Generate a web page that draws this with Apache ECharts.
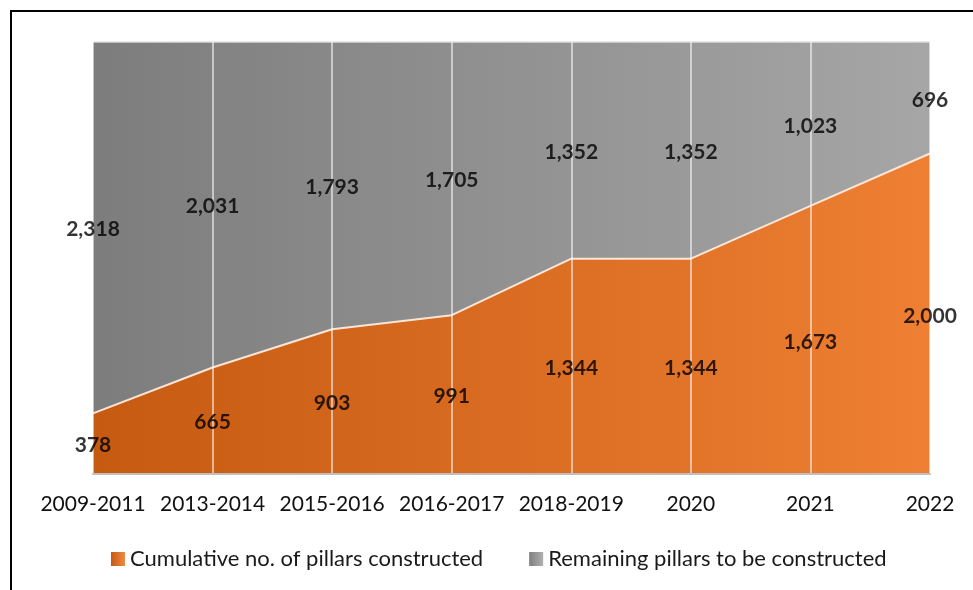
<!DOCTYPE html>
<html>
<head>
<meta charset="utf-8">
<script src="https://cdn.jsdelivr.net/npm/echarts@6/dist/echarts.min.js"></script>
<style>html,body{margin:0;padding:0;background:#fff;}#c{width:973px;height:590px;}</style>
</head>
<body>
<div id="c"></div>
<script>
const categories = ['2009-2011','2013-2014','2015-2016','2016-2017','2018-2019','2020','2021','2022'];
const constructed = [378, 665, 903, 991, 1344, 1344, 1673, 2000];
const remaining = [2318, 2031, 1793, 1705, 1352, 1352, 1023, 696];
const seriesNames = ['Cumulative no. of pillars constructed', 'Remaining pillars to be constructed'];

const FONT = 'Lato';
const orangeGrad = new echarts.graphic.LinearGradient(0, 0, 1, 0, [
  {offset: 0, color: '#c55a11'}, {offset: 1, color: '#ee7f33'}]);
const grayGrad = new echarts.graphic.LinearGradient(0, 0, 1, 0, [
  {offset: 0, color: '#7d7d7d'}, {offset: 1, color: '#a6a6a6'}]);
const orangeIcon = new echarts.graphic.LinearGradient(0, 0, 1, 0, [
  {offset: 0, color: '#c55a11'}, {offset: 1, color: '#f08a44'}]);
const grayIcon = new echarts.graphic.LinearGradient(0, 0, 1, 0, [
  {offset: 0, color: '#7f7f7f'}, {offset: 1, color: '#b0b0b0'}]);

const fmt = v => v.toLocaleString('en-US');
const lowLabels = constructed.map((v, i) => ({value: [i, v / 2, v]}));
const highLabels = remaining.map((v, i) => ({value: [i, constructed[i] + v / 2, v]}));

const labelStyle = {show: true, position: 'inside', offset: [0, 2], formatter: p => fmt(p.value[2]),
  fontFamily: FONT, fontSize: 21, fontWeight: 'bold', color: '#000'};

const chart = echarts.init(document.getElementById('c'));
chart.setOption({
  animation: false,
  graphic: [{
    type: 'rect', shape: {x: 11, y: 11, width: 1000, height: 1000},
    style: {fill: 'none', stroke: '#000', lineWidth: 2}, z: 100
  }],
  grid: {left: 93, right: 43, top: 42, bottom: 116},
  legend: {
    left: 106, top: 543, itemWidth: 14, itemHeight: 14, itemGap: 46,
    textStyle: {fontFamily: FONT, fontSize: 22, color: '#1a1a1a'},
    data: [
      {name: seriesNames[0], icon: 'rect', itemStyle: {color: orangeIcon}},
      {name: seriesNames[1], icon: 'rect', itemStyle: {color: grayIcon}}
    ]
  },
  xAxis: {
    type: 'category', data: categories, boundaryGap: false,
    axisLine: {lineStyle: {color: '#bfbfbf', width: 2}},
    axisTick: {show: false},
    axisLabel: {interval: 0, fontFamily: FONT, fontSize: 21, color: '#111', margin: 20},
    splitLine: {show: true, interval: 0, lineStyle: {color: 'rgba(255,255,255,0.55)', width: 2}},
    z: 5
  },
  yAxis: {type: 'value', min: 0, max: 2696, show: false, splitLine: {show: false}},
  series: [
    {
      name: seriesNames[0], type: 'line', stack: 'total', data: constructed,
      symbol: 'none', z: 4,
      lineStyle: {color: '#fbe5d6', width: 2},
      areaStyle: {color: orangeGrad, opacity: 1},
      itemStyle: {color: orangeIcon}
    },
    {
      name: seriesNames[1], type: 'line', stack: 'total', data: remaining,
      symbol: 'none', z: 2,
      lineStyle: {color: '#d9d9d9', width: 1.5},
      areaStyle: {color: grayGrad, opacity: 1},
      itemStyle: {color: grayIcon}
    },
    {type: 'scatter', data: lowLabels, symbolSize: 0, z: 10, silent: true, label: labelStyle},
    {type: 'scatter', data: highLabels, symbolSize: 0, z: 10, silent: true, label: labelStyle}
  ]
});
</script>
</body>
</html>
